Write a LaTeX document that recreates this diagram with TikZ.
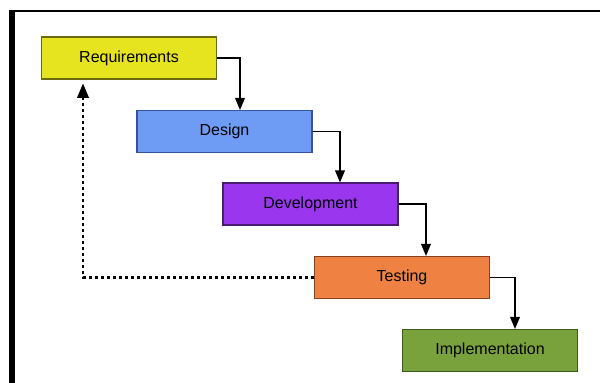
\documentclass[tikz,border=0pt]{standalone}
\usepackage{fontspec}
\setmainfont{Liberation Sans}
\usepackage{xcolor}
\usepackage{tikz}
\usetikzlibrary{arrows}
\usetikzlibrary{positioning}

\definecolor{reqfill}{HTML}{E6E41E}
\definecolor{reqline}{HTML}{6E6A10}
\definecolor{desfill}{HTML}{6E9CF4}
\definecolor{desline}{HTML}{34539E}
\definecolor{devfill}{HTML}{9A36EE}
\definecolor{devline}{HTML}{4A1C72}
\definecolor{tstfill}{HTML}{EF8142}
\definecolor{tstline}{HTML}{874020}
\definecolor{impfill}{HTML}{7AA23C}
\definecolor{impline}{HTML}{3E5A1E}

\begin{document}
\begin{tikzpicture}[x=1pt,y=-1pt,
  phase/.style={draw,line width=1.2pt,minimum width=175pt,minimum height=42pt,
    inner sep=0pt,font=\fontsize{16}{18}\selectfont},
  flow/.style={-triangle 45,line width=1.8pt},
  back/.style={-triangle 45,line width=2.4pt,dash pattern=on 3pt off 3pt}]
\useasboundingbox (0,0) rectangle (600,383);
% frame
\draw[line width=6pt] (12,10) -- (12,383);
\draw[line width=2pt] (9,11) -- (600,11);
% phases
\node[phase,fill=reqfill,draw=reqline] at (129,58) (req) {Requirements};
\node[phase,fill=desfill,draw=desline] at (224.5,131.5) (des) {Design};
\node[phase,fill=devfill,draw=devline] at (310.5,204) (dev) {Development};
\node[phase,fill=tstfill,draw=tstline] at (402,277.5) (tst) {Testing};
\node[phase,fill=impfill,draw=impline] at (490,350.5) (imp) {Implementation};
% flow
\draw[flow] (req.east) -| ([xshift=15.5pt]des.north);
\draw[flow] (des.east) -| ([xshift=29.5pt]dev.north);
\draw[flow] (dev.east) -| ([xshift=24pt]tst.north);
\draw[flow] (tst.east) -| ([xshift=25pt]imp.north);
\draw[back,shorten >=4pt] (tst.west) -| ([xshift=-46pt]req.south);
\end{tikzpicture}
\end{document}
